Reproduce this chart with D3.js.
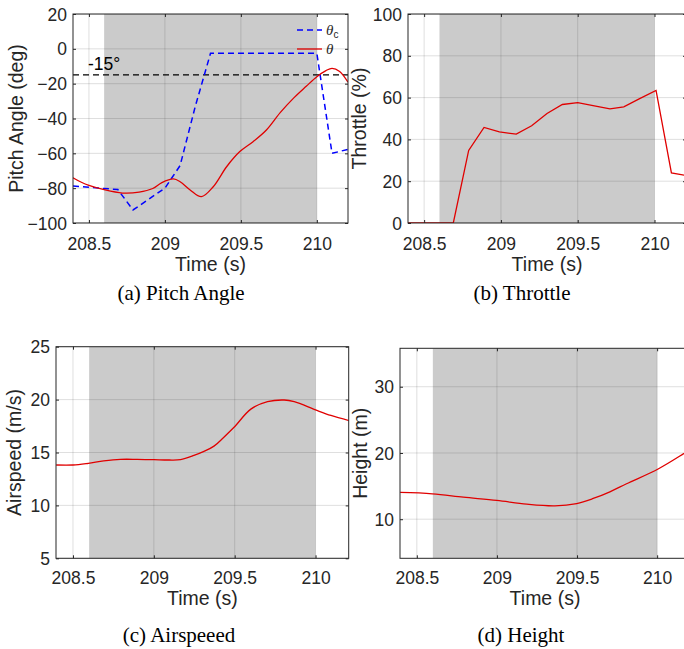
<!DOCTYPE html>
<html><head><meta charset="utf-8">
<script src="https://cdn.jsdelivr.net/npm/d3@7"></script>
<style>body{margin:0;background:#fff} svg{display:block}</style>
</head><body><svg id="c" width="684" height="649"></svg>
<script>
// ---------- data ----------
const xTicks = [208.5, 209, 209.5, 210];
const xTickLabels = ["208.5", "209", "209.5", "210"];
const xDomain = [208.395, 210.205];
const shadeSpan = [208.6, 210.0];

const pitchTicks = [20, 0, -20, -40, -60, -80, -100];
const throttleTicks = [0, 20, 40, 60, 80, 100];
const airspeedTicks = [5, 10, 15, 20, 25];
const heightTicks = [10, 20, 30];

const thetaTime = [208.395, 208.45, 208.5, 208.6, 208.72, 208.83, 208.92, 208.98, 209.056, 209.1, 209.166, 209.24, 209.318, 209.406, 209.493, 209.58, 209.668, 209.76, 209.85, 209.93, 210.0, 210.06, 210.1, 210.15, 210.205];
const thetaDeg  = [-74, -76.6, -78.4, -80.9, -82.8, -82.3, -80.2, -76.8, -74.7, -76.3, -81, -84.9, -79.2, -67.7, -59, -53.3, -46.6, -36.5, -28, -21.5, -16, -12.5, -11.2, -13, -19.2];

const thetaCmdTime = [208.395, 208.69, 208.79, 209.0, 209.1, 209.2, 209.3, 210.0, 210.1, 210.205];
const thetaCmdDeg  = [-78.8, -80.8, -92.5, -80, -67, -33, -2.6, -2.6, -60, -57.7];

const pitchLimit = -15;
const pitchLimitLabel = "-15°";

const throttleTime = [208.395, 208.69, 208.79, 208.89, 208.99, 209.1, 209.2, 209.3, 209.4, 209.5, 209.6, 209.71, 209.8, 209.9, 210.01, 210.11, 210.205];
const throttlePct  = [0, 0, 34.7, 45.7, 43.6, 42.5, 46.5, 52.4, 56.7, 57.6, 56.2, 54.6, 55.6, 59.4, 63.4, 24.0, 22.7];

const airspeedTime = [208.396, 208.5, 208.595, 208.69, 208.793, 208.897, 209.0, 209.093, 209.165, 209.248, 209.31, 209.372, 209.43, 209.496, 209.6, 209.703, 209.806, 209.868, 210.004, 210.095, 210.21];
const airspeedMs   = [13.82, 13.82, 13.98, 14.2, 14.35, 14.35, 14.32, 14.29, 14.33, 14.72, 15.1, 15.6, 16.4, 17.38, 19.1, 19.8, 19.96, 19.8, 19.0, 18.5, 18.0];

const heightTime = [208.396, 208.597, 208.79, 208.999, 209.186, 209.362, 209.498, 209.601, 209.705, 209.809, 210.006, 210.166, 210.205];
const heightM    = [14.04, 13.84, 13.33, 12.83, 12.27, 12.02, 12.37, 13.13, 14.14, 15.35, 17.58, 19.9, 20.5];

const captions = ["(a) Pitch Angle", "(b) Throttle", "(c) Airspeeed", "(d) Height"];
const yLabels = ["Pitch Angle (deg)", "Throttle (%)", "Airspeed (m/s)", "Height (m)"];
const xLabel = "Time (s)";
const legendLabels = ["θ", "θ"];

// ---------- layout ----------
const svg = d3.select("#c");
const SANS = "'Liberation Sans', Arial, sans-serif";
const SERIF = "'Liberation Serif', 'Times New Roman', serif";
const AX = "#262626";
const GRID = "rgba(38,38,38,0.15)";
const SHADE = "#cbcbcb";

const panels = [
  {l: 73,  r: 348,   t: 14,    b: 223,   yDomain: [-100, 20],  yTicks: pitchTicks,    ylabX: 22.5, tickBase: 250, xlabBase: 270.5, capX: 181, capBase: 300},
  {l: 408, r: 686,   t: 14,    b: 223,   yDomain: [0, 100],    yTicks: throttleTicks, ylabX: 366,  tickBase: 250, xlabBase: 270.5, capX: 522, capBase: 300},
  {l: 56,  r: 348.7, t: 346.7, b: 558.3, yDomain: [5, 25],     yTicks: airspeedTicks, ylabX: 21,   tickBase: 583.5, xlabBase: 605, capX: 179, capBase: 642},
  {l: 400, r: 690,   t: 348.3, b: 558.3, yDomain: [4.1, 35.8], yTicks: heightTicks,   ylabX: 367,  tickBase: 583.5, xlabBase: 605, capX: 521, capBase: 642}
];

function drawPanel(i, series) {
  const p = panels[i];
  const x = d3.scaleLinear().domain(xDomain).range([p.l, p.r]);
  const y = d3.scaleLinear().domain(p.yDomain).range([p.b, p.t]);
  const g = svg.append("g");
  const cid = "clip" + i;
  svg.append("clipPath").attr("id", cid).append("rect")
    .attr("x", p.l).attr("y", p.t).attr("width", p.r - p.l).attr("height", p.b - p.t);
  const inner = g.append("g").attr("clip-path", `url(#${cid})`);

  inner.append("rect")
    .attr("x", x(shadeSpan[0])).attr("y", p.t)
    .attr("width", x(shadeSpan[1]) - x(shadeSpan[0])).attr("height", p.b - p.t)
    .attr("fill", SHADE);

  inner.selectAll(".gx").data(xTicks).enter().append("line")
    .attr("x1", d => x(d)).attr("x2", d => x(d)).attr("y1", p.t).attr("y2", p.b)
    .attr("stroke", GRID).attr("stroke-width", 1);
  inner.selectAll(".gy").data(p.yTicks).enter().append("line")
    .attr("y1", d => y(d)).attr("y2", d => y(d)).attr("x1", p.l).attr("x2", p.r)
    .attr("stroke", GRID).attr("stroke-width", 1);

  series(inner, x, y);

  const tl = 3;
  const ax = (gen, tr) => {
    const a = g.append("g").attr("transform", tr).call(gen);
    a.select(".domain").remove();
    a.selectAll("line").attr("stroke", AX);
    return a;
  };
  const bottom = ax(d3.axisBottom(x).tickValues(xTicks).tickSize(-tl).tickFormat((d, k) => xTickLabels[k]), `translate(0,${p.b})`);
  bottom.selectAll("text").attr("y", null).attr("dy", null)
    .attr("transform", `translate(0,${p.tickBase - p.b})`)
    .style("font-family", SANS).style("font-size", "17.5px").attr("fill", AX);
  ax(d3.axisTop(x).tickValues(xTicks).tickSize(-tl).tickFormat(""), `translate(0,${p.t})`);
  const left = ax(d3.axisLeft(y).tickValues(p.yTicks).tickSize(-tl).tickFormat(d3.format("d")), `translate(${p.l},0)`);
  left.selectAll("text").attr("x", -6).attr("dy", "0.35em")
    .style("font-family", SANS).style("font-size", "17.5px").attr("fill", AX);
  ax(d3.axisRight(y).tickValues(p.yTicks).tickSize(-tl).tickFormat(""), `translate(${p.r},0)`);

  g.append("rect").attr("x", p.l).attr("y", p.t).attr("width", p.r - p.l).attr("height", p.b - p.t)
    .attr("fill", "none").attr("stroke", AX).attr("stroke-width", 1);

  g.append("text").attr("x", (p.l + p.r) / 2).attr("y", p.xlabBase)
    .attr("text-anchor", "middle").style("font-family", SANS).style("font-size", "19.5px")
    .attr("fill", AX).text(xLabel);
  g.append("text").attr("transform", `translate(${p.ylabX},${(p.t + p.b) / 2}) rotate(-90)`)
    .attr("text-anchor", "middle").style("font-family", SANS).style("font-size", "19.5px")
    .attr("fill", AX).text(yLabels[i]);
  svg.append("text").attr("x", p.capX).attr("y", p.capBase).attr("text-anchor", "middle")
    .style("font-family", SERIF).style("font-size", "21px").attr("fill", "#000").text(captions[i]);
}

function linePath(times, vals, x, y, curve) {
  return d3.line().x((d, k) => x(times[k])).y(d => y(d)).curve(curve)(vals);
}
const smooth = d3.curveCatmullRom.alpha(0.5);

drawPanel(0, (g, x, y) => {
  g.append("line").attr("x1", x(xDomain[0])).attr("x2", x(xDomain[1]))
    .attr("y1", y(pitchLimit)).attr("y2", y(pitchLimit))
    .attr("stroke", "#000").attr("stroke-width", 1.2).attr("stroke-dasharray", "6,4");
  g.append("path").attr("d", linePath(thetaCmdTime, thetaCmdDeg, x, y, d3.curveLinear))
    .attr("fill", "none").attr("stroke", "#0000ff").attr("stroke-width", 1.5).attr("stroke-dasharray", "6,4");
  g.append("path").attr("d", linePath(thetaTime, thetaDeg, x, y, smooth))
    .attr("fill", "none").attr("stroke", "#e00000").attr("stroke-width", 1.3);
  g.append("text").attr("x", x(xDomain[0]) + 15).attr("y", y(pitchLimit) - 5)
    .style("font-family", SANS).style("font-size", "17.5px").attr("fill", "#000").text(pitchLimitLabel);
  const lx0 = 297, lx1 = 322, ly = [30, 49];
  g.append("line").attr("x1", lx0).attr("x2", lx1).attr("y1", ly[0]).attr("y2", ly[0])
    .attr("stroke", "#0000ff").attr("stroke-width", 1.5).attr("stroke-dasharray", "6,4");
  g.append("line").attr("x1", lx0).attr("x2", lx1).attr("y1", ly[1]).attr("y2", ly[1])
    .attr("stroke", "#e00000").attr("stroke-width", 1.3);
  const t1 = g.append("text").attr("x", lx1 + 4).attr("y", ly[0] + 5)
    .style("font-family", SERIF).style("font-size", "15px").attr("fill", AX);
  t1.append("tspan").style("font-style", "italic").text(legendLabels[0]);
  t1.append("tspan").attr("dy", 3).style("font-family", SANS).style("font-size", "10px").text("c");
  g.append("text").attr("x", lx1 + 4).attr("y", ly[1] + 5)
    .style("font-family", SERIF).style("font-size", "15px").style("font-style", "italic")
    .attr("fill", AX).text(legendLabels[1]);
});

drawPanel(1, (g, x, y) => {
  g.append("path").attr("d", linePath(throttleTime, throttlePct, x, y, d3.curveLinear))
    .attr("fill", "none").attr("stroke", "#e00000").attr("stroke-width", 1.3);
});

drawPanel(2, (g, x, y) => {
  g.append("path").attr("d", linePath(airspeedTime, airspeedMs, x, y, smooth))
    .attr("fill", "none").attr("stroke", "#e00000").attr("stroke-width", 1.3);
});

drawPanel(3, (g, x, y) => {
  g.append("path").attr("d", linePath(heightTime, heightM, x, y, smooth))
    .attr("fill", "none").attr("stroke", "#e00000").attr("stroke-width", 1.3);
});
</script></body></html>
